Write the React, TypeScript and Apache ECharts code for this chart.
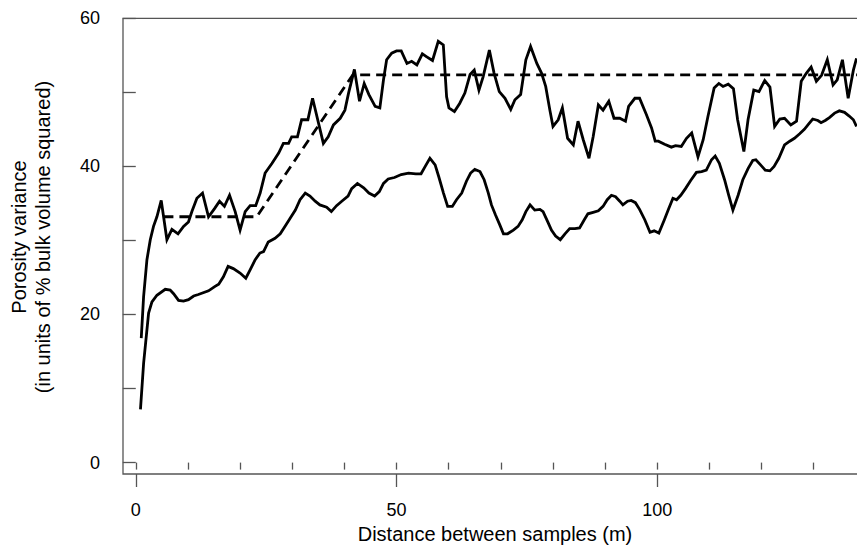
import React, { useEffect, useRef } from "react";
import * as echarts from "echarts";

// Experimental variogram (upper line)
const upperDist = [1.05,1.5,2.14,2.78,3.4,4.05,4.88,5.97,6.93,8.1,9.16,10.1,10.76,11.72,12.8,13.95,15.1,16.06,17.0,17.98,19.06,20.0,20.98,21.93,23.0,23.85,24.8,26.1,27.4,28.3,29.3,29.9,31.0,31.8,33.0,33.9,35.97,36.9,37.9,39.2,40.1,40.8,41.92,42.9,43.8,44.7,45.9,46.8,47.5,48.1,49.07,50.0,50.9,52.0,52.9,53.9,54.95,55.8,56.9,58.0,58.97,59.6,60.05,61.1,62.1,63.1,64.1,64.9,65.8,66.6,67.8,68.7,69.7,70.8,71.9,72.7,73.8,74.8,75.7,76.9,77.8,78.6,79.4,80.0,81.0,81.8,82.8,83.9,84.8,85.8,86.9,87.7,88.7,89.6,90.7,91.7,92.8,93.9,94.5,95.7,96.6,97.9,98.9,99.6,100.2,101.4,102.7,103.5,104.6,105.6,106.6,107.8,108.8,109.7,110.9,111.8,112.6,113.6,114.6,115.4,116.6,117.4,118.5,119.5,120.6,121.6,122.5,123.5,124.4,125.6,126.7,127.6,128.6,129.5,130.5,131.5,132.6,133.7,134.5,135.5,136.6,137.6,138.2];
const upperVar = [16.8,22.4,27.4,30.1,31.9,33.2,35.4,30.1,31.5,30.9,31.9,32.5,33.9,35.7,36.4,33.2,34.3,35.3,34.6,36.1,33.9,31.4,33.9,34.7,34.7,36.4,39.1,40.4,41.8,43.1,43.1,44.0,44.0,46.3,46.3,49.2,43.1,44.0,45.6,46.5,47.6,49.9,53.1,48.8,51.2,49.7,48.1,47.9,51.7,54.4,55.3,55.6,55.6,53.9,54.2,53.7,55.2,54.8,54.3,56.9,56.4,49.4,47.9,47.4,48.5,49.9,52.4,53.0,50.3,52.1,55.7,52.6,50.1,49.2,47.7,49.0,49.7,54.4,56.2,53.9,52.6,50.8,47.6,45.4,46.3,47.9,43.8,42.9,46.1,43.6,41.1,44.0,48.3,47.6,48.8,46.5,46.5,46.1,48.1,49.2,49.2,47.0,45.2,43.4,43.4,43.0,42.6,42.8,42.7,43.8,44.5,41.3,43.6,46.7,50.6,51.2,50.8,51.1,50.5,46.3,42.0,46.3,50.3,50.1,51.6,50.7,45.4,46.4,46.5,45.6,46.1,51.5,52.6,53.4,51.5,52.3,54.4,51.0,51.7,54.4,49.2,53.0,54.6];

// Experimental variogram (lower line)
const lowerDist = [0.9,1.5,2.46,3.1,4.05,5.65,6.6,7.25,8.2,9.16,10.1,11.1,12.0,13.95,15.2,15.9,16.8,17.7,18.7,20.0,21.1,21.9,22.9,23.8,24.5,25.4,26.7,27.7,28.6,29.6,30.6,31.5,32.5,33.4,34.4,35.3,36.6,37.5,38.5,39.5,40.7,41.4,42.5,43.7,44.7,45.8,46.7,47.5,48.4,49.6,50.9,52.3,53.7,54.7,55.5,56.4,57.4,58.1,59.0,59.8,60.7,61.5,62.5,63.4,64.2,65.0,66.0,66.8,67.6,68.2,69.0,69.8,70.5,71.3,72.4,73.3,74.1,74.8,75.6,76.5,77.5,78.1,79.0,79.7,80.5,81.4,82.3,83.2,84.2,85.1,86.0,86.7,87.7,88.7,89.6,90.4,91.2,92.0,92.8,93.4,94.3,95.0,95.8,96.6,97.6,98.6,99.4,100.3,101.3,102.2,103.0,103.7,104.5,105.4,106.4,107.5,108.5,109.4,110.4,111.1,111.9,112.9,113.7,114.5,115.5,116.4,117.4,118.3,118.9,119.8,120.7,121.6,122.4,123.3,124.4,125.4,126.3,127.3,128.2,129.0,129.8,130.8,131.4,132.2,133.0,134.0,134.9,135.9,136.8,137.6,138.2];
const lowerVar = [7.2,13.4,20.2,21.7,22.6,23.4,23.3,22.8,21.9,21.8,22.0,22.5,22.7,23.2,23.8,24.1,25.1,26.5,26.2,25.6,24.9,26.0,27.4,28.3,28.5,29.8,30.3,30.9,31.9,33.0,34.1,35.5,36.4,36.0,35.3,34.8,34.5,33.9,34.7,35.3,36.0,37.0,37.7,37.1,36.4,36.0,36.6,37.7,38.3,38.5,38.9,39.1,39.0,39.0,40.0,41.1,40.2,38.6,36.4,34.6,34.6,35.5,36.4,38.0,39.1,39.6,39.3,38.2,36.4,34.8,33.4,32.1,30.9,30.9,31.4,31.9,32.8,33.9,34.8,34.1,34.2,33.9,32.5,31.4,30.6,30.1,30.9,31.6,31.6,31.7,32.8,33.6,33.8,34.0,34.6,35.5,36.1,35.9,35.3,34.8,35.3,35.4,35.1,34.2,32.8,31.1,31.3,31.0,32.7,34.3,35.7,35.5,36.1,37.0,38.1,39.2,39.3,39.5,40.9,41.4,40.4,38.2,36.1,34.1,36.1,38.2,39.7,40.8,40.9,40.2,39.5,39.4,40.0,41.1,42.9,43.4,43.8,44.4,45.0,45.7,46.4,46.2,45.9,46.2,46.6,47.2,47.5,47.3,46.8,46.3,45.4];

// Fitted model (dashed)
const modelDist = [5.3, 23.2, 41.6, 140];
const modelVar = [33.2, 33.2, 52.35, 52.35];

// Ticks and labels
const xMinorTicks = [0, 10, 20, 30, 40, 50, 60, 70, 80, 90, 100, 110, 120, 130];
const xMajorTicks = [0, 50, 100];
const yTicks = [0, 10, 20, 30, 40, 50, 60];
const yLabels = [0, 20, 40, 60];

const xTitle = "Distance between samples (m)";
const yTitle1 = "Porosity variance";
const yTitle2 = "(in units of % bulk volume squared)";

const zip = (a: number[], b: number[]) => a.map((v, i) => [v, b[i]]);

const FONT = "'Liberation Sans', Arial, Helvetica, sans-serif";
const AXIS_COLOR = "#555";

export default function App() {
  const ref = useRef<HTMLDivElement>(null);
  useEffect(() => {
    if (!ref.current) return;
    const chart = echarts.init(ref.current, null, { renderer: "svg" });
    const xMin = -2.45;
    const xMax = 140;
    const common = {
      type: "value",
      min: xMin,
      max: xMax,
      axisLine: { show: false },
      splitLine: { show: false },
    };
    chart.setOption({
      animation: false,
      backgroundColor: "#fff",
      grid: {
        left: 123,
        top: 18.3,
        width: 742.9,
        height: 455.7,
        show: true,
        borderColor: AXIS_COLOR,
        borderWidth: 1.3,
        backgroundColor: "transparent",
        outerBoundsMode: "none",
      },
      xAxis: [
        {
          ...common,
          position: "bottom",
          axisTick: {
            show: true,
            customValues: xMinorTicks,
            length: 7,
            lineStyle: { color: AXIS_COLOR, width: 1.3 },
          },
          axisLabel: { show: false },
        },
        {
          ...common,
          position: "bottom",
          axisTick: {
            show: true,
            customValues: xMajorTicks,
            length: 13,
            lineStyle: { color: AXIS_COLOR, width: 1.3 },
          },
          axisLabel: {
            show: true,
            customValues: xMajorTicks,
            margin: 27,
            fontSize: 18,
            fontFamily: FONT,
            color: "#000",
          },
        },
      ],
      yAxis: {
        type: "value",
        min: -1.54,
        max: 60,
        axisLine: { show: false },
        splitLine: { show: false },
        axisTick: {
          show: true,
          customValues: yTicks,
          length: 13,
          lineStyle: { color: AXIS_COLOR, width: 1.3 },
        },
        axisLabel: {
          show: true,
          customValues: yLabels,
          margin: 23,
          fontSize: 18,
          fontFamily: FONT,
          color: "#000",
        },
      },
      series: [
        {
          type: "line",
          xAxisIndex: 0,
          data: zip(modelDist, modelVar),
          showSymbol: false,
          symbol: "none",
          lineStyle: { color: "#000", width: 2.8, type: [10, 6] },
        },
        {
          type: "line",
          xAxisIndex: 0,
          data: zip(upperDist, upperVar),
          showSymbol: false,
          symbol: "none",
          lineStyle: { color: "#000", width: 2.8, join: "miter" },
        },
        {
          type: "line",
          xAxisIndex: 0,
          data: zip(lowerDist, lowerVar),
          showSymbol: false,
          symbol: "none",
          lineStyle: { color: "#000", width: 2.8, join: "miter" },
        },
      ],
      graphic: [
        {
          type: "text",
          x: 495,
          y: 534,
          style: {
            text: xTitle,
            font: `20px ${FONT}`,
            fill: "#000",
            textAlign: "center",
            textVerticalAlign: "middle",
          },
        },
        {
          type: "text",
          x: 18.5,
          y: 237,
          rotation: Math.PI / 2,
          style: {
            text: yTitle1,
            font: `20px ${FONT}`,
            fill: "#000",
            textAlign: "center",
            textVerticalAlign: "middle",
          },
        },
        {
          type: "text",
          x: 42.5,
          y: 237,
          rotation: Math.PI / 2,
          style: {
            text: yTitle2,
            font: `20px ${FONT}`,
            fill: "#000",
            textAlign: "center",
            textVerticalAlign: "middle",
          },
        },
      ],
    });
    return () => chart.dispose();
  }, []);
  return (
    <div
      ref={ref}
      style={{ position: "fixed", left: 0, top: 0, width: 857, height: 549, background: "#fff" }}
    />
  );
}
